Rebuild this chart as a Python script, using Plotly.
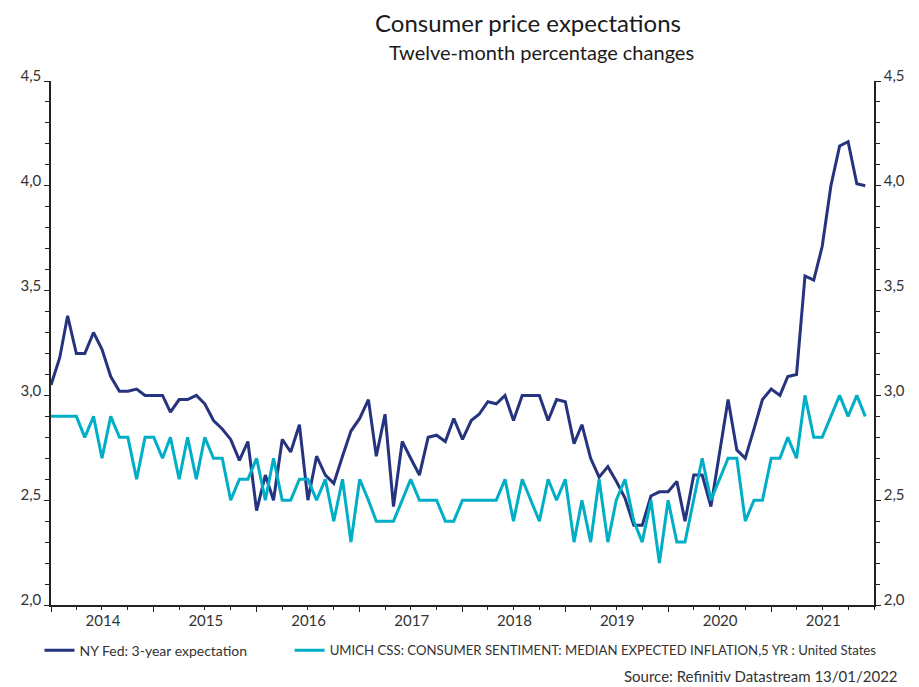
"""Consumer price expectations: NY Fed 3-year vs UMICH 5-year median."""

import pandas as pd
import plotly.graph_objects as go

# Monthly observations, Jan 2014 .. Dec 2021
START_MONTH = "2014-01-01"
YEARS = [2014, 2015, 2016, 2017, 2018, 2019, 2020, 2021]

NY_FED_3Y = [
    3.05, 3.18, 3.38, 3.20, 3.20, 3.30, 3.22, 3.09, 3.02, 3.02, 3.03, 3.00,
    3.00, 3.00, 2.92, 2.98, 2.98, 3.00, 2.96, 2.88, 2.84, 2.79, 2.69, 2.78,
    2.45, 2.62, 2.50, 2.79, 2.73, 2.86, 2.50, 2.71, 2.62, 2.58, 2.71, 2.83,
    2.89, 2.98, 2.71, 2.91, 2.47, 2.78, 2.70, 2.62, 2.80, 2.81, 2.78, 2.89,
    2.79, 2.88, 2.91, 2.97, 2.96, 3.00, 2.88, 3.00, 3.00, 3.00, 2.88, 2.98,
    2.97, 2.77, 2.86, 2.70, 2.61, 2.66, 2.59, 2.51, 2.38, 2.38, 2.52, 2.54,
    2.54, 2.59, 2.40, 2.62, 2.62, 2.47, 2.72, 2.98, 2.74, 2.70, 2.84, 2.98,
    3.03, 3.00, 3.09, 3.10, 3.57, 3.55, 3.71, 4.00, 4.19, 4.21, 4.01, 4.00,
]

UMICH_5Y = [
    2.9, 2.9, 2.9, 2.9, 2.8, 2.9, 2.7, 2.9, 2.8, 2.8, 2.6, 2.8,
    2.8, 2.7, 2.8, 2.6, 2.8, 2.6, 2.8, 2.7, 2.7, 2.5, 2.6, 2.6,
    2.7, 2.5, 2.7, 2.5, 2.5, 2.6, 2.6, 2.5, 2.6, 2.4, 2.6, 2.3,
    2.6, 2.5, 2.4, 2.4, 2.4, 2.5, 2.6, 2.5, 2.5, 2.5, 2.4, 2.4,
    2.5, 2.5, 2.5, 2.5, 2.5, 2.6, 2.4, 2.6, 2.5, 2.4, 2.6, 2.5,
    2.6, 2.3, 2.5, 2.3, 2.6, 2.3, 2.5, 2.6, 2.4, 2.3, 2.5, 2.2,
    2.5, 2.3, 2.3, 2.5, 2.7, 2.5, 2.6, 2.7, 2.7, 2.4, 2.5, 2.5,
    2.7, 2.7, 2.8, 2.7, 3.0, 2.8, 2.8, 2.9, 3.0, 2.9, 3.0, 2.9,
]

NAME_NY = "NY Fed: 3-year expectation"
NAME_UM = "UMICH CSS: CONSUMER SENTIMENT: MEDIAN EXPECTED INFLATION,5 YR : United States"

FONT = "Lato"
TEXT = "#333333"
AXIS = "#222222"

months = pd.date_range(START_MONTH, periods=len(NY_FED_3Y), freq="MS")

fig = go.Figure()
fig.add_trace(go.Scatter(
    x=months, y=NY_FED_3Y, mode="lines", name=NAME_NY,
    line=dict(color="#26347F", width=3),
    legend="legend",
))
# same scale as the left axis; plotted on y2 so the right axis gets drawn
fig.add_trace(go.Scatter(
    x=months, y=UMICH_5Y, mode="lines", name=NAME_UM,
    line=dict(color="#00AEC6", width=3),
    yaxis="y2", legend="legend2",
))

y_common = dict(
    range=[2.0, 4.5],
    dtick=0.5,
    tick0=2.0,
    tickformat=".1f",
    ticks="outside",
    ticklen=5,
    tickcolor=AXIS,
    ticklabelshift=-5,
    minor=dict(ticks="outside", dtick=0.1, ticklen=4, tickcolor=AXIS),
    showline=True,
    linecolor=AXIS,
    linewidth=1.5,
    showgrid=False,
    zeroline=False,
    tickfont=dict(family=FONT, size=15, color=TEXT),
)

legend_common = dict(
    orientation="h",
    xanchor="left",
    y=-0.087,
    yanchor="middle",
    bgcolor="rgba(0,0,0,0)",
)

fig.update_layout(
    width=919,
    height=687,
    margin=dict(l=43, r=53, t=73, b=90),
    paper_bgcolor="white",
    plot_bgcolor="white",
    separators=",.",
    font=dict(family=FONT, color=TEXT),
    xaxis=dict(
        type="date",
        range=["2014-01-01", "2022-01-01"],
        tickvals=[f"{y}-01-01" for y in YEARS],
        ticktext=[str(y) for y in YEARS],
        ticks="outside",
        ticklen=5,
        tickcolor=AXIS,
        ticklabelshift=52,
        ticklabelstandoff=-4,
        minor=dict(ticks="outside", dtick="M3", tick0="2014-01-01",
                   ticklen=3, tickcolor=AXIS),
        showline=True,
        linecolor=AXIS,
        linewidth=1.5,
        showgrid=False,
        zeroline=False,
        tickfont=dict(family=FONT, size=15, color=TEXT),
    ),
    yaxis=dict(**y_common),
    yaxis2=dict(**y_common, overlaying="y", side="right", anchor="x"),
    showlegend=True,
    legend=dict(**legend_common, x=-0.014,
                font=dict(family=FONT, size=14, color=TEXT)),
    legend2=dict(**legend_common, x=0.29,
                 font=dict(family=FONT, size=13.2, color=TEXT)),
    annotations=[
        dict(text="Consumer price expectations", xref="paper", yref="paper",
             x=0.579, y=1.0, yanchor="middle", yshift=59, borderpad=0,
             showarrow=False,
             font=dict(family=FONT, size=24, color="#1a1a1a")),
        dict(text="Twelve-month percentage changes", xref="paper", yref="paper",
             x=0.5965, y=1.0, yanchor="middle", yshift=29, borderpad=0,
             showarrow=False,
             font=dict(family=FONT, size=20, color="#1a1a1a")),
        dict(text="Source: Refinitiv Datastream 13/01/2022", xref="paper",
             yref="paper", x=1.032, xanchor="right", y=0, yshift=-82,
             showarrow=False,
             font=dict(family=FONT, size=15, color=TEXT)),
    ],
)

fig.write_html("out.html")
